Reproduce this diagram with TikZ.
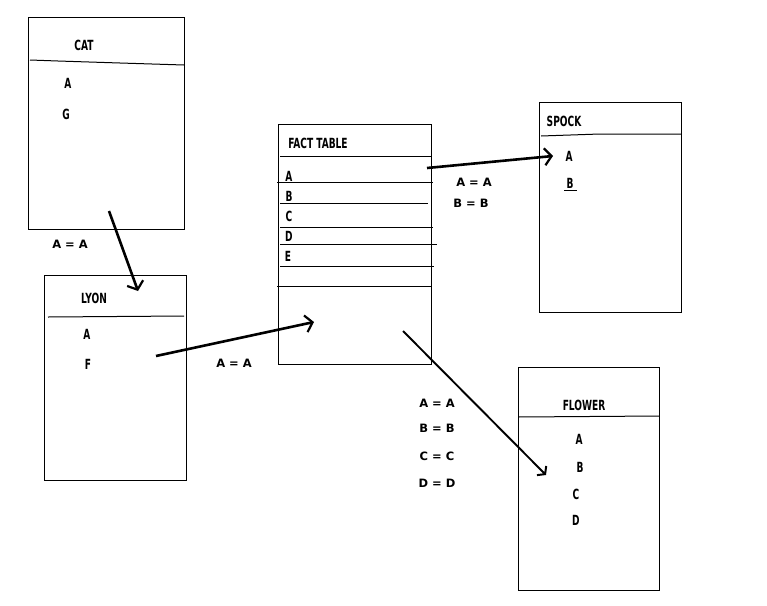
\documentclass[tikz,border=0pt]{standalone}
\usepackage{fontspec}
\setmainfont{DejaVu Sans}
\newfontfamily\boxfont[FakeStretch=0.72]{DejaVu Sans Condensed}
\usetikzlibrary{arrows.meta}
\begin{document}
\begin{tikzpicture}[x=1pt,y=-1pt,
  tablebox/.style={draw, line width=1pt, inner sep=0pt, minimum width=#1},
  ttl/.style={font=\boxfont\bfseries\fontsize{14}{15}\selectfont, inner sep=0pt},
  fld/.style={font=\boxfont\bfseries\fontsize{14}{15}\selectfont, inner sep=0pt},
  rel/.style={font=\bfseries\fontsize{11.5}{13}\selectfont, inner sep=0pt},
  rule/.style={line width=1pt},
  link/.style={line width=2.6pt, -{Straight Barb[length=7pt,width=17pt,line width=2.2pt]}},
  thinlink/.style={line width=1.9pt, -{Straight Barb[length=5pt,width=13pt,line width=2pt]}}
]
\useasboundingbox (0,0) rectangle (767,605);
\fill[white] (0,0) rectangle (767,605);

% CAT
\node[tablebox=156pt, minimum height=212pt] (cat) at (106,123) {};
\draw[rule] (30,60) -- (58,61) -- (120,63) -- (184,65);
\node[ttl] (catt) at (84,45) {CAT};
\node[fld] (cata) at (68,83) {A};
\node[fld] (catg) at (66,114) {G};

% LYON
\node[tablebox=142pt, minimum height=205pt] (lyon) at (115,377.5) {};
\draw[rule] (48,317) -- (184,316);
\node[ttl] (lyont) at (94,298) {LYON};
\node[fld] (lyona) at (87,334) {A};
\node[fld] (lyonf) at (88,364) {F};

% FACT TABLE
\node[tablebox=153pt, minimum height=240pt] (fact) at (354.5,244) {};
\node[ttl] (factt) at (318,143) {FACT TABLE};
\draw[rule] (280,156) -- (431,156);
\draw[rule] (277,182) -- (433,182);
\draw[rule] (280,203) -- (428,203);
\draw[rule] (280,227) -- (433,227);
\draw[rule] (280,244) -- (437,244);
\draw[rule] (280,266) -- (434,266);
\draw[rule] (277,286) -- (431,286);
\node[fld] (facta) at (289,176) {A};
\node[fld] (factb) at (289,196) {B};
\node[fld] (factc) at (289,216) {C};
\node[fld] (factd) at (289,236) {D};
\node[fld] (facte) at (288,256) {E};

% SPOCK
\node[tablebox=142pt, minimum height=210pt] (spock) at (610,207) {};
\draw[rule] (541,136) -- (600,134) -- (681,134);
\node[ttl] (spockt) at (564,121) {SPOCK};
\node[fld] (spocka) at (569,156) {A};
\node[fld] (spockb) at (570,183) {B};
\draw[rule] (564,190) -- (577,190);

% FLOWER
\node[tablebox=141pt, minimum height=223pt] (flower) at (588.5,478.5) {};
\draw[rule] (518,417) -- (659,416);
\node[ttl] (flowert) at (584,405) {FLOWER};
\node[fld] (flowera) at (579,439) {A};
\node[fld] (flowerb) at (580,467) {B};
\node[fld] (flowerc) at (576,494) {C};
\node[fld] (flowerd) at (576,520) {D};

% connector end points
\coordinate (c1s) at (109,211);
\coordinate (c1e) at (138,291);
\coordinate (c2s) at (156,356);
\coordinate (c2e) at (314,322);
\coordinate (c3s) at (427,168);
\coordinate (c3e) at (553,156);
\coordinate (c4s) at (403,331);
\coordinate (c4e) at (546,475);

\draw[link] (c1s) -- (c1e);
\draw[link] (c2s) -- (c2e);
\draw[link] (c3s) -- (c3e);
\draw[thinlink] (c4s) -- (c4e);

% relation labels
\node[rel] (r1) at (70,244) {A = A};
\node[rel] (r2) at (234,363) {A = A};
\node[rel] (r3a) at (474,182) {A = A};
\node[rel] (r3b) at (471,203) {B = B};
\node[rel] (r4a) at (437,403) {A = A};
\node[rel] (r4b) at (437,428) {B = B};
\node[rel] (r4c) at (437,456) {C = C};
\node[rel] (r4d) at (437,483) {D = D};
\end{tikzpicture}
\end{document}
